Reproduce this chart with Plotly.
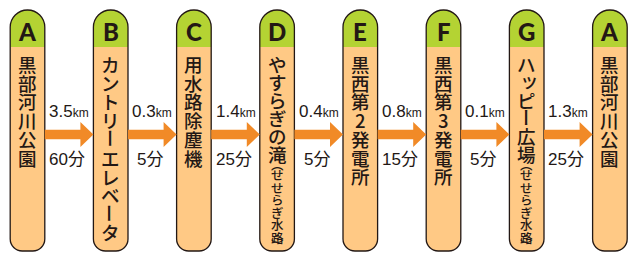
import plotly.graph_objects as go

# ---- data ----
letters = ["A", "B", "C", "D", "E", "F", "G", "A"]
names = ["黒部河川公園", "カントリーエレベータ", "用水路除塵機", "やすらぎの滝",
         "黒西第2発電所", "黒西第3発電所", "ハッピー広場", "黒部河川公園"]
subnames = ["", "", "", "せせらぎ水路", "", "", "せせらぎ水路", ""]
distances_km = [3.5, 0.3, 1.4, 0.4, 0.8, 0.1, 1.3]
times_min = [60, 5, 25, 5, 15, 5, 25]

# ---- style ----
W, H = 630, 253
STEP = 83.2          # px between stops
X0PX = 27.5          # px of first stop
HALF_W = 17.3        # px half width of pill
TOP, HEAD_BOT, BOT = 10, 47, 251
R_BOT = 12
GREEN = "#B4D333"
BODY = "#FFC985"
ARROW = "#F18A27"
INK = "#231815"
K = 0.5523
JP = "Noto Sans CJK JP"
LS = 1.3             # plotly line spacing (em)
MAIN_SIZE = 18.5
SUB_SIZE = 12.5
SPECIAL = "ーッ"


def px(dx):
    return dx / STEP


shapes = []
annotations = []


def add_run(x, ys, chars, glyph_size, pitch):
    base = pitch / LS
    txt = "<br>".join(f"<span style='font-size:{glyph_size}px'>{c}</span>" for c in chars)
    annotations.append(dict(x=x, y=sum(ys) / len(ys), text=txt, showarrow=False,
                            font=dict(family=JP, size=base, color=INK, weight=500),
                            xanchor="center", yanchor="middle"))


n = len(letters)
for i in range(n):
    hw = px(HALF_W)
    L, R = i - hw, i + hw
    r = HALF_W
    top_arc = (f"M{L},{TOP + r} C{L},{TOP + r - K * r} {i - K * hw},{TOP} {i},{TOP} "
               f"C{i + K * hw},{TOP} {R},{TOP + r - K * r} {R},{TOP + r} ")
    rb = R_BOT
    rbx = px(R_BOT)
    bottom = (f"L{R},{BOT - rb} C{R},{BOT - rb + K * rb} {R - rbx + K * rbx},{BOT} {R - rbx},{BOT} "
              f"L{L + rbx},{BOT} C{L + rbx - K * rbx},{BOT} {L},{BOT - rb + K * rb} {L},{BOT - rb} ")
    green = top_arc + f"L{R},{HEAD_BOT} L{L},{HEAD_BOT} Z"
    body = f"M{L},{HEAD_BOT} L{R},{HEAD_BOT} " + bottom + "Z"
    outline = top_arc + bottom + "Z"
    shapes.append(dict(type="path", path=green, fillcolor=GREEN, line=dict(width=0), layer="below"))
    shapes.append(dict(type="path", path=body, fillcolor=BODY, line=dict(width=0), layer="below"))
    shapes.append(dict(type="path", path=outline, fillcolor="rgba(0,0,0,0)",
                       line=dict(color=INK, width=1.3), layer="below"))

    # letter
    annotations.append(dict(x=i, y=31, text=letters[i], showarrow=False,
                            font=dict(family="Lato, Liberation Sans", size=24, color=INK, weight=900),
                            xanchor="center", yanchor="middle"))

    # vertical name: runs of ordinary characters, special characters on their own
    pitch = 18.0 if subnames[i] else 18.7
    y0 = 64
    run_chars, run_ys = [], []
    last = y0
    for k, ch in enumerate(names[i]):
        y = y0 + k * pitch
        last = y
        if ch in SPECIAL:
            if run_chars:
                add_run(i, run_ys, run_chars, MAIN_SIZE, pitch)
                run_chars, run_ys = [], []
            if ch == "ー":
                annotations.append(dict(x=i, y=y, text=ch, showarrow=False, textangle=90,
                                        font=dict(family=JP, size=MAIN_SIZE, color=INK, weight=500),
                                        xanchor="center", yanchor="middle"))
            else:  # small kana sits to the upper right in vertical writing
                annotations.append(dict(x=i + px(2.5), y=y - 2.5, text=ch, showarrow=False,
                                        font=dict(family=JP, size=MAIN_SIZE, color=INK, weight=500),
                                        xanchor="center", yanchor="middle"))
        else:
            run_chars.append(ch)
            run_ys.append(y)
    if run_chars:
        add_run(i, run_ys, run_chars, MAIN_SIZE, pitch)

    if subnames[i]:
        sub_pitch = 12.6
        open_y = last + 10
        ys = [open_y + 10.5 + k * sub_pitch for k in range(len(subnames[i]))]
        annotations.append(dict(x=i, y=open_y, text="︵", showarrow=False,
                                font=dict(family=JP, size=SUB_SIZE, color=INK, weight=500),
                                xanchor="center", yanchor="middle"))
        add_run(i, ys, list(subnames[i]), SUB_SIZE, sub_pitch)
        annotations.append(dict(x=i, y=ys[-1] + 6.5, text="︶", showarrow=False,
                                font=dict(family=JP, size=SUB_SIZE, color=INK, weight=500),
                                xanchor="center", yanchor="middle"))

# arrows and labels
for i in range(n - 1):
    x_start = i + px(HALF_W)
    x_tip = i + 1 - px(HALF_W)
    x_base = x_tip - px(13)
    yc = 134.5
    path = (f"M{x_start},{yc - 4.8} L{x_base},{yc - 4.8} L{x_base},{yc - 12.5} L{x_tip},{yc} "
            f"L{x_base},{yc + 12.5} L{x_base},{yc + 4.8} L{x_start},{yc + 4.8} Z")
    shapes.append(dict(type="path", path=path, fillcolor=ARROW, line=dict(width=0), layer="below"))
    xm = i + 0.5
    annotations.append(dict(x=xm, y=111,
                            text=f"{distances_km[i]:.1f}<span style='font-size:12px'>km</span>",
                            showarrow=False,
                            font=dict(family=f"Liberation Sans, {JP}", size=17, color=INK),
                            xanchor="center", yanchor="middle"))
    annotations.append(dict(x=xm - px(2), y=159, text=f"{times_min[i]}分", showarrow=False,
                            font=dict(family=f"Liberation Sans, {JP}", size=17, color=INK),
                            xanchor="center", yanchor="middle"))

fig = go.Figure()
fig.update_layout(
    width=W, height=H,
    margin=dict(l=0, r=0, t=0, b=0),
    paper_bgcolor="white", plot_bgcolor="white",
    xaxis=dict(range=[(0 - X0PX) / STEP, (W - X0PX) / STEP], visible=False, fixedrange=True),
    yaxis=dict(range=[H, 0], visible=False, fixedrange=True),
    shapes=shapes, annotations=annotations, showlegend=False,
)
fig.write_html("out.html", config={"displayModeBar": False})

# remove the default page margin so the figure sits at the window's corner
with open("out.html", encoding="utf-8") as f:
    html = f.read()
html = html.replace("<body>", "<body style=\"margin:0;padding:0;overflow:hidden\">", 1)
with open("out.html", "w", encoding="utf-8") as f:
    f.write(html)
